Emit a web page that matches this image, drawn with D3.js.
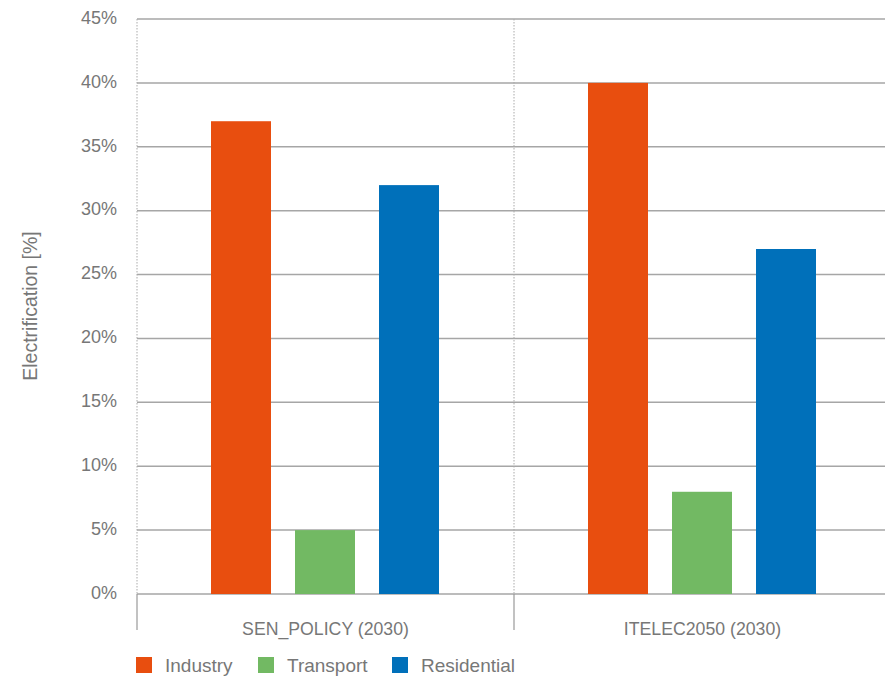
<!DOCTYPE html>
<html><head><meta charset="utf-8">
<script src="https://cdn.jsdelivr.net/npm/d3@7"></script>
<style>body{margin:0;background:#fff;} text{font-family:"Liberation Sans",Arial,sans-serif;}</style>
</head><body>
<svg id="c" width="885" height="676"></svg>
<script>
const categories = ["SEN_POLICY (2030)", "ITELEC2050 (2030)"];
const seriesNames = ["Industry", "Transport", "Residential"];
const industry = [37, 40];
const transport = [5, 8];
const residential = [32, 27];
const yTicks = [0, 5, 10, 15, 20, 25, 30, 35, 40, 45];
const colors = ["#E84E0F", "#72B963", "#0070BA"];

(function () {
const values = [industry, transport, residential];
const svg = d3.select("#c");
const pLeft = 137, pTop = 19, pBottom = 594, pRight = 891;
const x = d3.scaleBand().domain(categories).range([pLeft, pRight]);
const y = d3.scaleLinear().domain([0, 45]).range([pBottom, pTop]);
const inner = d3.scaleBand().domain(seriesNames).range([74, 302]).paddingInner(0.2857);
const textCol = "#777";

// gridlines
svg.append("g").selectAll("line").data(yTicks).join("line")
  .attr("x1", pLeft).attr("x2", 885).attr("y1", d => y(d)).attr("y2", d => y(d))
  .attr("stroke", "#a6a6a6").attr("stroke-width", 1.5);

// dotted vertical separators
const seps = [pLeft, x(categories[1])];
svg.append("g").selectAll("line").data(seps).join("line")
  .attr("x1", d => d).attr("x2", d => d).attr("y1", pTop).attr("y2", pBottom)
  .attr("stroke", "#aaa").attr("stroke-width", 1).attr("stroke-dasharray", "1.5,1.5");
svg.append("g").selectAll("line").data(seps).join("line")
  .attr("x1", d => d).attr("x2", d => d).attr("y1", pBottom).attr("y2", 630)
  .attr("stroke", "#999").attr("stroke-width", 1.2);

// bars
categories.forEach((cat, ci) => {
  seriesNames.forEach((s, si) => {
    svg.append("rect")
      .attr("x", x(cat) + inner(s))
      .attr("width", inner.bandwidth())
      .attr("y", y(values[si][ci]))
      .attr("height", y(0) - y(values[si][ci]))
      .attr("fill", colors[si]);
  });
});

// y tick labels
svg.append("g").selectAll("text").data(yTicks).join("text")
  .attr("x", 117).attr("y", d => y(d) - 1).attr("dy", "0.32em")
  .attr("text-anchor", "end").attr("font-size", 18).attr("fill", textCol)
  .text(d => d + "%");

// category labels
svg.append("g").selectAll("text").data(categories).join("text")
  .attr("x", d => x(d) + x.bandwidth() / 2).attr("y", 635)
  .attr("text-anchor", "middle").attr("font-size", 17.7).attr("fill", textCol)
  .text(d => d);

// y axis title
svg.append("text").attr("transform", "translate(37,306) rotate(-90)")
  .attr("text-anchor", "middle").attr("font-size", 19.5).attr("fill", textCol)
  .text("Electrification [%]");

// legend
const legX = [136, 258, 392];
const lg = svg.append("g").selectAll("g").data(seriesNames).join("g")
  .attr("transform", (d, i) => `translate(${legX[i]},657)`);
lg.append("rect").attr("width", 16).attr("height", 16).attr("fill", (d, i) => colors[i]);
lg.append("text").attr("x", 29).attr("y", 15).attr("font-size", 19).attr("fill", textCol).text(d => d);
})();
</script>
</body></html>
